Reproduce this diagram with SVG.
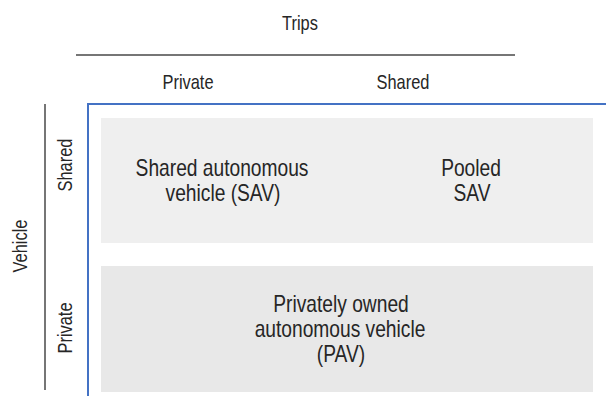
<svg xmlns="http://www.w3.org/2000/svg" width="606" height="396" viewBox="0 0 606 396">
<style>
text{font-family:"Liberation Sans",Arial,sans-serif;fill:#262626;text-anchor:middle}
.h{font-size:20.5px}
.c{font-size:24px}
.axis{stroke:#767676;stroke-width:2;fill:none}
.frame{stroke:#4472C4;stroke-width:2;fill:none}
</style>
<rect width="606" height="396" fill="#ffffff"/>
<g id="lines">
<line class="axis" x1="76" y1="55" x2="515" y2="55"/>
<line class="axis" x1="45" y1="104" x2="45" y2="390"/>
<path class="frame" d="M606,104 H88 V396"/>
</g>
<g id="trips-label"><text class="h" transform="translate(300,30) scale(0.8,1)">Trips</text></g>
<g id="col-private"><text class="h" transform="translate(188,89) scale(0.8,1)">Private</text></g>
<g id="col-shared"><text class="h" transform="translate(403,89) scale(0.8,1)">Shared</text></g>
<g id="vehicle-label"><text class="h" transform="translate(27,246) rotate(-90) scale(0.8,1)">Vehicle</text></g>
<g id="row-shared"><text class="h" transform="translate(72,165) rotate(-90) scale(0.8,1)">Shared</text></g>
<g id="row-private"><text class="h" transform="translate(72,328) rotate(-90) scale(0.8,1)">Private</text></g>
<g id="cell-shared">
<rect x="101" y="118" width="492" height="125" fill="#efefef"/>
<text class="c" transform="translate(222,176) scale(0.8,1)">Shared autonomous</text>
<text class="c" transform="translate(223,201) scale(0.8,1)">vehicle (SAV)</text>
<text class="c" transform="translate(471,176) scale(0.8,1)">Pooled</text>
<text class="c" transform="translate(472,201) scale(0.8,1)">SAV</text>
</g>
<g id="cell-private">
<rect x="101" y="266" width="492" height="126" fill="#e8e8e8"/>
<text class="c" transform="translate(341,312) scale(0.8,1)">Privately owned</text>
<text class="c" transform="translate(340,337) scale(0.8,1)">autonomous vehicle</text>
<text class="c" transform="translate(341,362) scale(0.8,1)">(PAV)</text>
</g>
</svg>
